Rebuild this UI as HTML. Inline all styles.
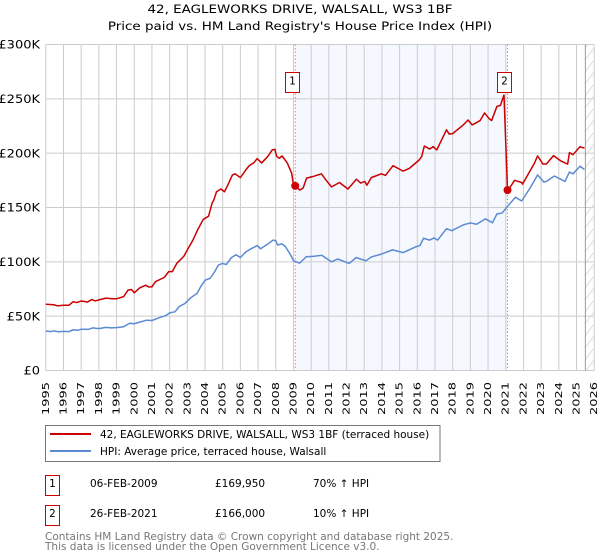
<!DOCTYPE html>
<html>
<head>
<meta charset="utf-8">
<title>42, EAGLEWORKS DRIVE, WALSALL, WS3 1BF</title>
<style>
html,body{margin:0;padding:0;background:#fff;width:600px;height:560px;overflow:hidden}
svg{display:block}
text{font-family:"DejaVu Sans","Liberation Sans",sans-serif;fill:#000}
</style>
</head>
<body>
<svg id="chart" width="600" height="560" viewBox="0 0 600 560" xmlns="http://www.w3.org/2000/svg">
<defs>
<pattern id="hatch" patternUnits="userSpaceOnUse" width="9" height="12">
<line x1="0" y1="12" x2="9" y2="0" stroke="#ddd" stroke-width="1"/>
</pattern>
</defs>
<text transform="translate(300 13) scale(1.17 1)" font-size="11.5" text-anchor="middle">42, EAGLEWORKS DRIVE, WALSALL, WS3 1BF</text>
<text transform="translate(300 30) scale(1.17 1)" font-size="11.5" text-anchor="middle">Price paid vs. HM Land Registry's House Price Index (HPI)</text>
<g id="plot"></g>
<g>
<rect x="45.5" y="425.5" width="394.5" height="36" fill="#fff" stroke="#777" stroke-width="1"/>
<line x1="50" y1="434" x2="91" y2="434" stroke="#c00" stroke-width="2"/>
<text x="100" y="438" font-size="10.5">42, EAGLEWORKS DRIVE, WALSALL, WS3 1BF (terraced house)</text>
<line x1="50" y1="451" x2="91" y2="451" stroke="#5b8bd0" stroke-width="2"/>
<text x="100" y="455" font-size="10.5">HPI: Average price, terraced house, Walsall</text>
</g>
<g font-size="10.5">
<rect x="45.5" y="475.5" width="14" height="20" fill="#fff" stroke="#c00"/>
<text x="52.5" y="487" font-size="10.5" text-anchor="middle">1</text>
<text x="90" y="487" font-size="10.5">06-FEB-2009</text>
<text x="215" y="487" font-size="10.5">£169,950</text>
<text x="313" y="487" font-size="10.5">70% ↑ HPI</text>
<rect x="45.5" y="505.5" width="14" height="20" fill="#fff" stroke="#c00"/>
<text x="52.5" y="517" font-size="10.5" text-anchor="middle">2</text>
<text x="90" y="517" font-size="10.5">26-FEB-2021</text>
<text x="215" y="517" font-size="10.5">£166,000</text>
<text x="313" y="517" font-size="10.5">10% ↑ HPI</text>
</g>
<text x="45" y="540" font-size="10.5" style="fill:#777">Contains HM Land Registry data © Crown copyright and database right 2025.</text>
<text x="45" y="550" font-size="10.5" style="fill:#777">This data is licensed under the Open Government Licence v3.0.</text>
</svg>
<script>
const yearTicks = [1995,1996,1997,1998,1999,2000,2001,2002,2003,2004,2005,2006,2007,2008,2009,2010,2011,2012,2013,2014,2015,2016,2017,2018,2019,2020,2021,2022,2023,2024,2025,2026];
const valueTicks = [0,50,100,150,200,250,300];
const valueLabels = ['£0','£50K','£100K','£150K','£200K','£250K','£300K'];
const saleDates = [2009.1,2021.1];
const saleValues = [169.95,166];
const saleLabels = ['1','2'];
const dataEnd = 2025.5;

const priceDates = [
1995,1995.45,1995.65,1996,1996.3,1996.55,
1996.75,1997,1997.35,1997.6,1997.8,1998,
1998.4,1998.75,1999,1999.4,1999.65,1999.85,
2000,2000.3,2000.65,2000.8,2001,2001.2,
2001.7,2001.95,2002.15,2002.4,2002.8,2003,
2003.3,2003.6,2003.9,2004.2,2004.4,2004.5,
2004.65,2004.9,2005.1,2005.3,2005.55,2005.7,
2006,2006.3,2006.5,2006.75,2006.95,2007.2,
2007.55,2007.8,2007.95,2008.05,2008.2,2008.35,
2008.65,2008.9,2009,2009.1,2009.36,2009.55,
2009.74,2010.1,2010.58,2010.85,2011.15,2011.6,
2012.08,2012.56,2012.8,2013.03,2013.15,2013.4,
2013.97,2014.2,2014.63,2015.2,2015.55,2016.1,
2016.25,2016.4,2016.7,2016.9,2017.1,2017.65,
2017.8,2018,2018.6,2018.87,2019.1,2019.55,
2019.8,2020.05,2020.2,2020.5,2020.7,2020.9,
2021.1,2021.3,2021.5,2021.7,2021.9,2021.95,
2022.35,2022.6,2022.8,2023.1,2023.3,2023.7,
2024.1,2024.35,2024.5,2024.6,2024.8,2025.2,
2025.35,2025.45];
const priceValues = [
61,60.5,59.5,60,60,63.3,
62.5,64,63,65.3,64,65,
66.6,66,66,68,74,74.5,
71.5,76,78.5,77,77,81.7,
85.7,91,91,98.5,105,111,
119.5,130,139,142,154,157,
164.5,167,164.5,171,180,181,
177.5,184.5,188.5,191,195,191,
197,203,203.5,197,195.3,197.5,
191,181.5,170.7,169.95,166,168,
177,178.5,181,175,169,173,
167,176,172.5,174,170.5,177.5,
181,179.5,188.5,183.5,186,193.6,
197,206.6,203.8,206,203,221.5,
217.6,218,226,230.5,226,230,
237,232,230,243,244,253.5,
165.5,170,175,174,173,171.5,
183,190,197.5,190,190,197.7,
193,191,190,200.5,198.6,206,
205,205];

const hpiDates = [
1995,1995.3,1995.45,1995.7,1996,1996.3,
1996.55,1996.8,1997,1997.4,1997.65,1998,
1998.4,1998.7,1999,1999.4,1999.75,2000,
2000.3,2000.7,2001,2001.4,2001.8,2002,
2002.3,2002.55,2002.85,2003.2,2003.55,2003.75,
2004,2004.3,2004.55,2004.75,2005,2005.2,
2005.5,2005.75,2006,2006.3,2006.6,2006.95,
2007.15,2007.5,2007.85,2008,2008.1,2008.35,
2008.55,2008.85,2009,2009.35,2009.72,2010.1,
2010.6,2011.15,2011.5,2012.15,2012.55,2012.8,
2013.1,2013.4,2013.95,2014.6,2015.2,2015.95,
2016.15,2016.35,2016.7,2016.95,2017.15,2017.65,
2017.95,2018.6,2019,2019.35,2019.85,2020.25,
2020.5,2020.8,2021.1,2021.55,2021.9,2022.4,
2022.8,2023.15,2023.3,2023.75,2024.35,2024.6,
2024.8,2025.2,2025.45];
const hpiValues = [
36.3,35.8,36.5,35.7,36,35.8,
37.5,37,38,37.8,39.2,38.5,
39.7,39.2,39.5,40.3,43.5,43,
44.5,46.3,46,48.5,50.7,53,
54,59,61.5,67,71,77,
83,85,91,97,98.5,97.5,
104,106.5,104,109,112,115,
112,116,120,119.5,115.5,116.5,
114,106,101,98.8,104.7,105,
106,100,102.6,98.5,104,102.5,
101,104.5,107,111,108.5,114,
115,121.7,120,122,120,130.5,
128.7,134,135.8,134.6,139.5,136,
144,145,151,159.5,156,168.5,
180,173.5,174,179,174,182.6,
181,188,185];

const X0 = 45.8, X1 = 594.2, Y0 = 370.5, Y1 = 44.5;
function xAxis(year){ return X0 + (year - 1995) * (X1 - X0) / 31; }
function yAxis(value){ return Y0 - value * (Y0 - Y1) / 300; }

const NS = 'http://www.w3.org/2000/svg';
const plot = document.getElementById('plot');
function make(tag, attrs){
  const el = document.createElementNS(NS, tag);
  for (const k in attrs) el.setAttribute(k, attrs[k]);
  plot.appendChild(el);
  return el;
}
function pathFrom(dates, values){
  return dates.map((d, i) => (i ? 'L' : 'M') + xAxis(d).toFixed(2) + ' ' + yAxis(values[i]).toFixed(2)).join(' ');
}

const band = make('rect', {x: xAxis(saleDates[0]), y: Y1, width: xAxis(saleDates[1]) - xAxis(saleDates[0]), height: Y0 - Y1, fill: '#f5f8ff'});



valueTicks.forEach((v, i) => {
  const g = make('line', {x1: X0, x2: X1, y1: yAxis(v), y2: yAxis(v), stroke: '#ccc', 'stroke-width': 1});
  
  
  const t = make('text', {'font-size': 11.5, 'text-anchor': 'end', transform: 'translate(40 ' + (yAxis(v) + 4.2) + ') scale(1.13 1)'});
  t.textContent = valueLabels[i];
  
  
});

yearTicks.forEach(y => {
  const g = make('line', {x1: xAxis(y), x2: xAxis(y), y1: Y1, y2: Y0, stroke: '#ccc', 'stroke-width': 1});
  
  
  const px = xAxis(y) + 3;
  const t = make('text', {'font-size': 10, 'text-anchor': 'end', transform: 'translate(' + px + ' 382) rotate(-90) scale(1.3 1)'});
  t.textContent = y;
  
  
});

const hatch = make('rect', {x: xAxis(dataEnd), y: Y1, width: X1 - xAxis(dataEnd), height: Y0 - Y1, fill: 'url(#hatch)'});


const endLine = make('line', {x1: xAxis(dataEnd), x2: xAxis(dataEnd), y1: Y1, y2: Y0, stroke: '#999', 'stroke-width': 1});



saleDates.forEach(d => {
  const l = make('line', {x1: xAxis(d), x2: xAxis(d), y1: Y1, y2: Y0, stroke: '#f77', 'stroke-width': 1, 'stroke-dasharray': '1.5 2'});
  
  
});

const hpiLine = make('path', {d: pathFrom(hpiDates, hpiValues), fill: 'none', stroke: '#5b8bd0', 'stroke-width': 1.5, 'stroke-linejoin': 'round'});


const priceLine = make('path', {d: pathFrom(priceDates, priceValues), fill: 'none', stroke: '#c00', 'stroke-width': 1.5, 'stroke-linejoin': 'round'});



saleDates.forEach((d, i) => {
  const c = make('circle', {cx: xAxis(d), cy: yAxis(saleValues[i]), r: 4, fill: '#c00'});
  
  
  const bx = Math.floor(xAxis(d) - 10) + 0.5;
  const r = make('rect', {x: bx, y: 72.5, width: 14, height: 20, fill: '#fff', stroke: '#c00', 'stroke-width': 1});
  
  
  const t = make('text', {x: bx + 7, y: 84.5, 'font-size': 10.5, 'text-anchor': 'middle'});
  t.textContent = saleLabels[i];
  
  
});
</script>
</body>
</html>
